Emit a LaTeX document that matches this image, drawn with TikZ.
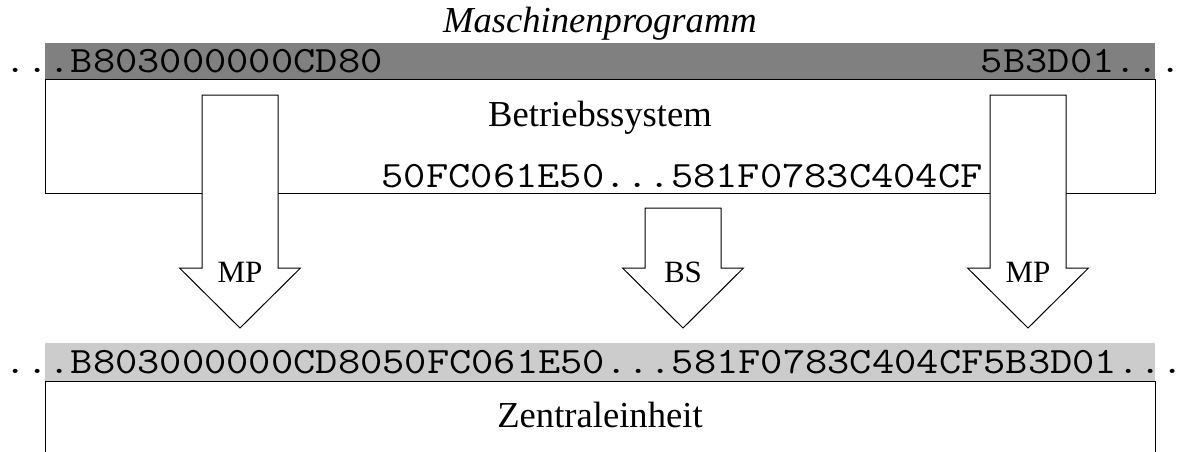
\documentclass[tikz,border=0pt]{standalone}
\usepackage{fontspec}
\setmainfont{Liberation Serif}
\setmonofont[FakeStretch=1.162]{Latin Modern Mono}
\definecolor{darkband}{gray}{0.5}
\definecolor{lightband}{gray}{0.8}
\begin{document}
\begin{tikzpicture}[x=1pt,y=-1pt,
  mono/.style={font=\fontsize{37.2}{40}\selectfont\ttfamily, inner sep=0pt},
  serif/.style={font=\fontsize{36.6}{40}\selectfont, inner sep=0pt},
  titlefont/.style={font=\fontsize{36.6}{40}\selectfont\itshape, inner sep=0pt},
  lbl/.style={font=\fontsize{31}{34}\selectfont, inner sep=0pt},
  boxline/.style={draw=black, line width=1pt},
  bigarrow/.style={draw=black, fill=white, line width=1pt, line join=miter}]
\useasboundingbox (0,0) rectangle (1178,452);
% bands and boxes
\fill[darkband] (45,43) rectangle (1155,80);
\draw[boxline] (45,80) rectangle (1155,193);
\fill[lightband] (45,343) rectangle (1155,381);
\draw[boxline] (45,470) -- (45,381) -- (1155,381) -- (1155,470);
% texts
\node[titlefont, anchor=base] (title) at (600,33) {Maschinenprogramm};
\node[mono, anchor=base west] (mpl) at (3.9,73) {...B803000000CD80};
\node[mono, anchor=base east] (mpr) at (1181.5,73) {5B3D01...};
\node[serif, anchor=base] (bs) at (600,126) {Betriebssystem};
\node[mono, anchor=base west] (bscode) at (381.5,187) {50FC061E50...581F0783C404CF};
\node[mono, anchor=base west] (cpucode) at (3.9,373) {...B803000000CD8050FC061E50...581F0783C404CF5B3D01...};
\node[serif, anchor=base] (cpu) at (600,427) {Zentraleinheit};
% block arrows
\foreach \cx/\ty/\nm/\t in {240/95/amp1/MP, 683/208/abs/BS, 1028/95/amp2/MP} {
  \draw[bigarrow] (\cx-38,\ty) -- (\cx+38,\ty) -- (\cx+38,268) -- (\cx+60.5,268)
    -- (\cx,328) -- (\cx-60.5,268) -- (\cx-38,268) -- cycle;
  \node[lbl, anchor=base] (\nm) at (\cx,282) {\t};
}
\end{tikzpicture}
\end{document}
